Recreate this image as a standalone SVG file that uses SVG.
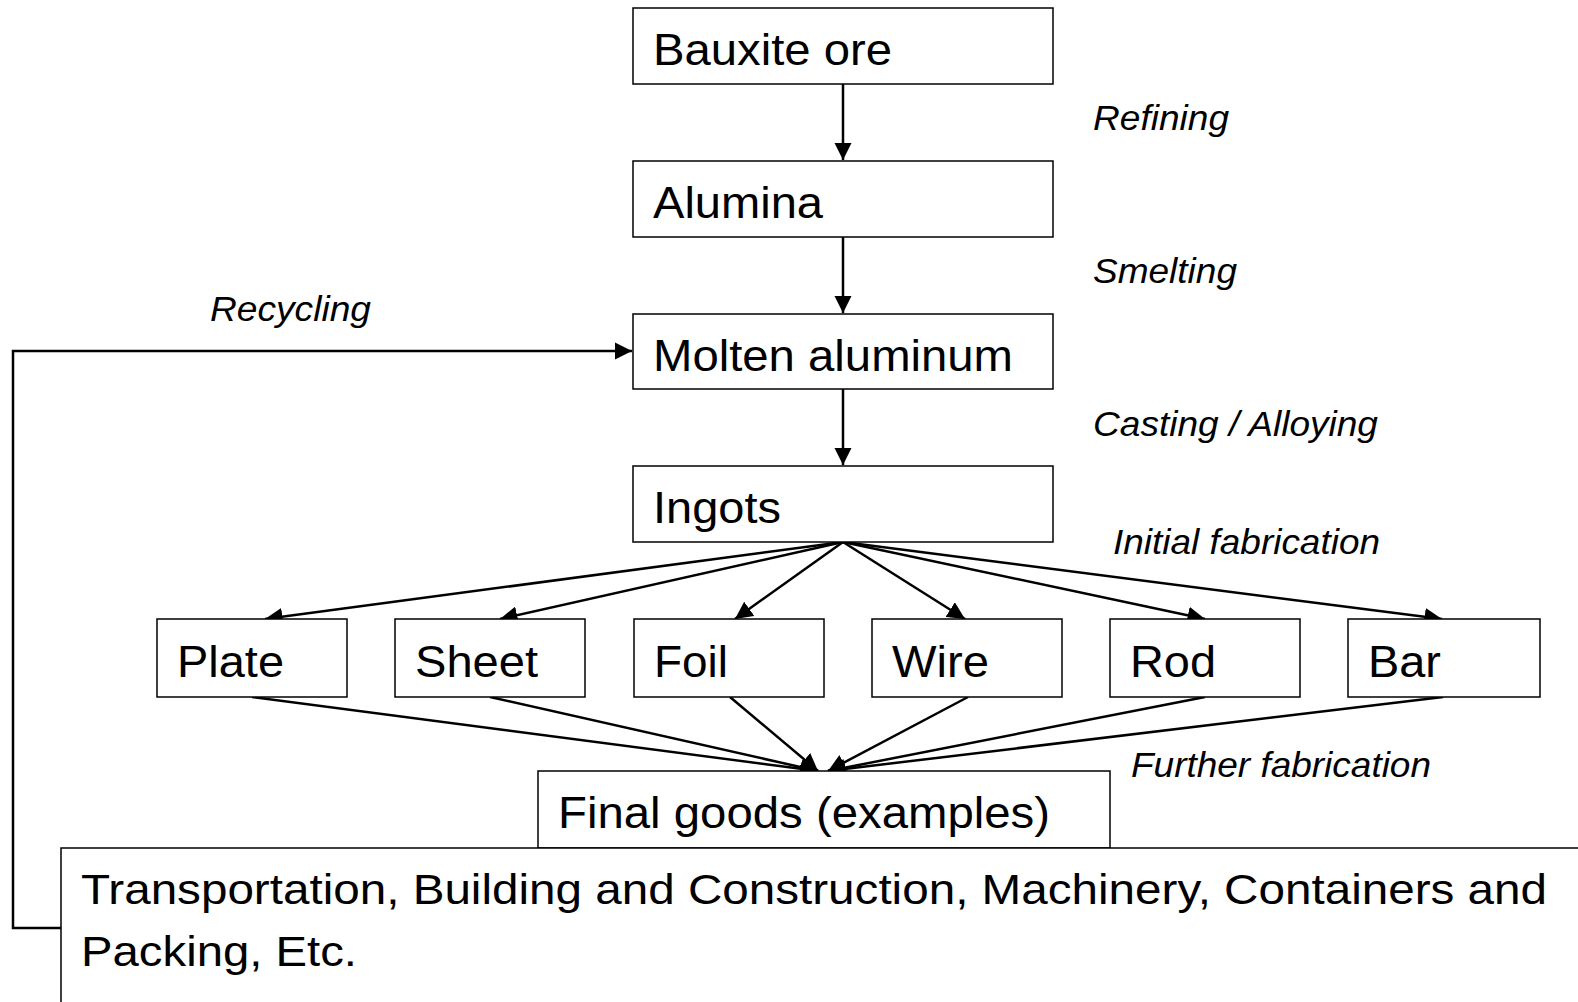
<svg xmlns="http://www.w3.org/2000/svg" width="1578" height="1002" viewBox="0 0 1578 1002">
<style>
.box{fill:#fff;stroke:#000;stroke-width:1.5}
.t{font-family:"Liberation Sans",Arial,sans-serif;font-size:45px;fill:#000}
.b{font-family:"Liberation Sans",Arial,sans-serif;font-size:43px;fill:#000}
.l{font-family:"Liberation Sans",Arial,sans-serif;font-size:35px;font-style:italic;fill:#000}
.c{fill:none;stroke:#000;stroke-width:2.5}
</style>
<defs>
<marker id="b" viewBox="0 0 10 10" refX="10" refY="5" markerWidth="7" markerHeight="7" orient="auto"><path d="M0,0L10,5L0,10z" fill="#000"/></marker>
</defs>
<rect width="1578" height="1002" fill="#fff"/>
<g id="connectors">
<path class="c" marker-end="url(#b)" d="M843,84V160"/>
<path class="c" marker-end="url(#b)" d="M843,237V313"/>
<path class="c" marker-end="url(#b)" d="M843,389V465"/>
<path class="c" marker-end="url(#b)" d="M843,542L265,619"/>
<path class="c" marker-end="url(#b)" d="M843,542L500,619"/>
<path class="c" marker-end="url(#b)" d="M843,542L735,619"/>
<path class="c" marker-end="url(#b)" d="M843,542L965,619"/>
<path class="c" marker-end="url(#b)" d="M843,542L1205,619"/>
<path class="c" marker-end="url(#b)" d="M843,542L1442,619"/>
<path class="c" marker-end="url(#b)" d="M252,697L818,771"/>
<path class="c" marker-end="url(#b)" d="M490,697L818,771"/>
<path class="c" marker-end="url(#b)" d="M730,697L818,771"/>
<path class="c" marker-end="url(#b)" d="M968,697L828,771"/>
<path class="c" marker-end="url(#b)" d="M1205,697L828,771"/>
<path class="c" marker-end="url(#b)" d="M1443,697L828,771"/>
<path class="c" marker-end="url(#b)" d="M61,928H13V351H632"/>
</g>
<g id="bauxite"><rect class="box" x="633" y="8" width="420" height="76"/><text class="t" x="653" y="65" textLength="239" lengthAdjust="spacingAndGlyphs">Bauxite ore</text></g>
<g id="alumina"><rect class="box" x="633" y="161" width="420" height="76"/><text class="t" x="653" y="218" textLength="170" lengthAdjust="spacingAndGlyphs">Alumina</text></g>
<g id="molten"><rect class="box" x="633" y="314" width="420" height="75"/><text class="t" x="653" y="371" textLength="360" lengthAdjust="spacingAndGlyphs">Molten aluminum</text></g>
<g id="ingots"><rect class="box" x="633" y="466" width="420" height="76"/><text class="t" x="653" y="523" textLength="128" lengthAdjust="spacingAndGlyphs">Ingots</text></g>
<g id="plate"><rect class="box" x="157" y="619" width="190" height="78"/><text class="t" x="177" y="677" textLength="107" lengthAdjust="spacingAndGlyphs">Plate</text></g>
<g id="sheet"><rect class="box" x="395" y="619" width="190" height="78"/><text class="t" x="415" y="677" textLength="123" lengthAdjust="spacingAndGlyphs">Sheet</text></g>
<g id="foil"><rect class="box" x="634" y="619" width="190" height="78"/><text class="t" x="654" y="677" textLength="74" lengthAdjust="spacingAndGlyphs">Foil</text></g>
<g id="wire"><rect class="box" x="872" y="619" width="190" height="78"/><text class="t" x="892" y="677" textLength="97" lengthAdjust="spacingAndGlyphs">Wire</text></g>
<g id="rod"><rect class="box" x="1110" y="619" width="190" height="78"/><text class="t" x="1130" y="677" textLength="86" lengthAdjust="spacingAndGlyphs">Rod</text></g>
<g id="bar"><rect class="box" x="1348" y="619" width="192" height="78"/><text class="t" x="1368" y="677" textLength="73" lengthAdjust="spacingAndGlyphs">Bar</text></g>
<g id="final"><rect class="box" x="538" y="771" width="572" height="77"/><text class="t" x="558" y="828" textLength="492" lengthAdjust="spacingAndGlyphs">Final goods (examples)</text></g>
<g id="uses"><rect class="box" x="61" y="848" width="1530" height="170"/><text class="b" x="81" y="904" textLength="1466" lengthAdjust="spacingAndGlyphs">Transportation, Building and Construction, Machinery, Containers and</text><text class="b" x="81" y="966" textLength="276" lengthAdjust="spacingAndGlyphs">Packing, Etc.</text></g>
<g id="labels">
<text class="l" x="1093" y="130" textLength="136" lengthAdjust="spacingAndGlyphs">Refining</text>
<text class="l" x="1093" y="283" textLength="144" lengthAdjust="spacingAndGlyphs">Smelting</text>
<text class="l" x="1093" y="436" textLength="285" lengthAdjust="spacingAndGlyphs">Casting / Alloying</text>
<text class="l" x="1113" y="554" textLength="267" lengthAdjust="spacingAndGlyphs">Initial fabrication</text>
<text class="l" x="1131" y="777" textLength="300" lengthAdjust="spacingAndGlyphs">Further fabrication</text>
<text class="l" x="210" y="321" textLength="161" lengthAdjust="spacingAndGlyphs">Recycling</text>
</g>
</svg>
